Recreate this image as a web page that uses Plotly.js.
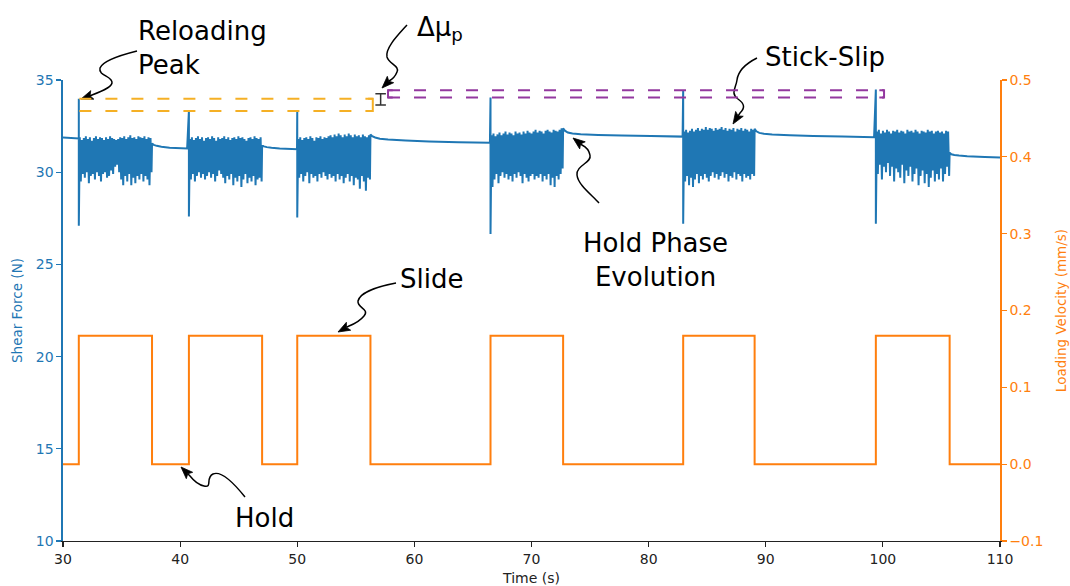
<!DOCTYPE html>
<html>
<head>
<meta charset="utf-8">
<script src="https://cdn.plot.ly/plotly-3.0.1.min.js"></script>
<style>html,body{margin:0;padding:0;background:#fff;}#chart{width:1070px;height:586px;}</style>
</head>
<body>
<div id="chart"></div>
<script>
// ---------------- data ----------------
const slideStart    = [31.35, 40.75, 50.0, 66.5, 82.95, 99.4];
const slideEnd      = [37.6, 47.0, 56.25, 72.7, 89.05, 105.7];
const slideVelocity = [0.167, 0.167, 0.167, 0.167, 0.167, 0.167];
const holdVelocity  = 0.0;

const reloadPeak = [33.98, 33.32, 33.32, 34.05, 34.45, 34.48];
const reloadDrop = [27.1, 27.6, 27.55, 26.65, 27.2, 27.2];

const preTime  = [30, 31.35];
const preForce = [31.88, 31.83];

const holdDt = [0, 0.15, 0.4, 0.8, 1.5, 3, 5, 7.5, 10.2];
const hold1 = [31.55, 31.48, 31.43, 31.38, 31.33, 31.29];
const hold2 = [31.45, 31.40, 31.36, 31.32, 31.28, 31.25];
const hold3 = [32.05, 31.95, 31.88, 31.82, 31.77, 31.72, 31.67, 31.63, 31.60];
const hold4 = [32.38, 32.25, 32.15, 32.10, 32.06, 32.02, 31.99, 31.96, 31.93];
const hold5 = [32.35, 32.22, 32.13, 32.08, 32.04, 32.00, 31.96, 31.93, 31.90];
const hold6 = [31.05, 30.97, 30.93, 30.90, 30.87, 30.83, 30.80];

const slip1Hi = [31.9,31.75,31.85,31.95,31.8,31.9,31.7,31.85,31.95,31.8,31.9,31.85,31.75,31.9,31.8,31.95,31.85,31.8,31.75,31.8,31.9,31.85,31.95,31.8,31.9,32.0,31.85,31.9,31.8,31.95,31.9,31.85,31.95,31.8,31.9,31.85];
const slip1Lo = [29.5,29.9,29.7,30.0,29.4,29.8,29.9,29.6,30.0,29.8,29.5,29.9,30.0,29.7,29.8,30.1,29.9,30.3,30.4,30.0,29.6,29.3,29.8,29.5,29.9,29.3,29.7,29.4,29.8,29.6,29.9,29.5,29.8,29.6,29.3,30.0];
const slip2Hi = [31.8,31.9,31.75,31.85,31.95,31.8,31.9,31.7,31.85,31.9,31.8,31.95,31.85,31.7,31.9,31.8,31.85,31.95,31.8,31.9,31.75,31.85,31.9,31.8,31.95,31.85,31.9,31.8,31.7,31.85,31.9,31.8,31.95,31.85,31.8,31.9];
const slip2Lo = [29.6,29.9,29.5,29.8,30.0,29.7,29.9,29.6,29.8,30.0,29.7,29.9,29.5,29.8,30.1,29.9,29.7,29.4,29.8,29.6,29.9,29.3,29.7,29.5,29.8,29.2,29.6,29.9,29.4,29.7,29.5,29.8,29.3,29.6,29.7,29.5];
const slip3Hi = [31.8,31.9,31.75,31.85,31.9,31.8,31.95,31.85,31.7,31.9,31.85,31.95,31.8,31.9,31.85,31.95,32.0,31.9,32.05,31.95,32.1,32.0,31.9,32.05,31.95,32.1,32.0,31.9,32.05,31.95,32.0,31.9,32.05,31.95,31.9,32.0];
const slip3Lo = [29.7,29.9,29.5,29.8,30.0,29.4,29.9,29.7,29.8,29.5,29.9,29.7,30.0,29.8,29.6,29.9,29.7,29.8,29.5,29.9,29.6,29.8,29.4,29.7,29.9,29.5,29.8,29.3,29.7,29.6,29.1,29.8,29.5,29.0,29.7,29.6];
const slip4Hi = [32.0,32.1,31.95,32.05,32.15,32.0,32.1,32.2,32.05,32.15,32.1,32.0,32.2,32.1,32.15,32.05,32.2,32.1,32.25,32.15,32.1,32.2,32.3,32.15,32.25,32.2,32.1,32.25,32.3,32.2,32.15,32.3,32.25,32.2,32.3,32.38];
const slip4Lo = [29.2,29.6,29.9,29.4,29.8,30.0,29.7,29.9,29.6,29.8,29.5,29.9,29.7,30.0,29.8,29.4,29.9,29.7,29.5,29.8,29.9,29.6,29.8,29.7,29.9,29.5,29.8,29.6,29.9,29.3,29.7,29.2,29.8,29.6,29.9,30.2];
const slip5Hi = [32.2,32.3,32.15,32.25,32.35,32.2,32.3,32.4,32.25,32.35,32.3,32.45,32.3,32.4,32.35,32.25,32.4,32.3,32.35,32.45,32.3,32.4,32.25,32.35,32.3,32.4,32.2,32.35,32.3,32.4,32.25,32.35,32.3,32.2,32.35,32.3];
const slip5Lo = [29.5,29.8,29.3,29.7,29.2,29.6,29.9,29.4,29.8,29.6,29.9,29.7,29.5,29.8,30.0,29.7,29.9,29.6,29.8,30.0,29.7,29.9,29.5,29.8,29.7,30.0,29.6,29.9,29.8,29.5,29.9,29.7,29.8,29.6,29.9,29.8];
const slip6Hi = [32.2,32.3,32.1,32.25,32.15,32.3,32.2,32.1,32.25,32.2,32.3,32.15,32.25,32.2,32.1,32.3,32.2,32.25,32.15,32.3,32.2,32.1,32.25,32.2,32.15,32.3,32.2,32.25,32.1,32.2,32.25,32.15,32.2,32.1,32.25,32.2];
const slip6Lo = [29.9,30.4,29.6,30.3,30.0,30.5,29.8,30.3,29.5,30.2,30.0,29.7,30.4,29.4,30.1,29.8,30.3,29.5,29.9,30.2,29.3,29.8,30.1,29.4,29.9,29.2,29.7,30.1,29.5,29.9,29.6,30.2,29.5,29.9,30.3,29.8];

const xTicks = [30, 40, 50, 60, 70, 80, 90, 100, 110];
const yTicks = [10, 15, 20, 25, 30, 35];
const y2Ticks = [-0.1, 0.0, 0.1, 0.2, 0.3, 0.4, 0.5];

// ---------------- build traces ----------------
const slipHi = [slip1Hi, slip2Hi, slip3Hi, slip4Hi, slip5Hi, slip6Hi];
const slipLo = [slip1Lo, slip2Lo, slip3Lo, slip4Lo, slip5Lo, slip6Lo];
const holds = [hold1, hold2, hold3, hold4, hold5, hold6];
const X_END = 110;

const fx = [], fy = [];
preTime.forEach((t, i) => { fx.push(t); fy.push(preForce[i]); });
for (let i = 0; i < slideStart.length; i++) {
  const t0 = slideStart[i];
  fx.push(t0); fy.push(reloadPeak[i]);
  fx.push(t0); fy.push(reloadDrop[i]);
  const hi = slipHi[i], lo = slipLo[i];
  const a = t0 + 0.04, b = slideEnd[i];
  const n = hi.length;
  const step = (b - a) / n;
  for (let k = 0; k < n; k++) {
    fx.push(a + k * step + step * 0.25); fy.push(hi[k]);
    fx.push(a + k * step + step * 0.75); fy.push(lo[k]);
  }
  const next = (i + 1 < slideStart.length) ? slideStart[i + 1] - 0.02 : X_END;
  const h = holds[i];
  for (let k = 0; k < h.length; k++) {
    fx.push(Math.min(b + holdDt[k], next)); fy.push(h[k]);
  }
}

const vx = [30], vy = [holdVelocity];
for (let i = 0; i < slideStart.length; i++) {
  vx.push(slideStart[i], slideStart[i], slideEnd[i], slideEnd[i]);
  vy.push(holdVelocity, slideVelocity[i], slideVelocity[i], holdVelocity);
}
vx.push(X_END); vy.push(holdVelocity);

const BLUE = '#1f77b4', ORANGE = '#ff7f0e', GOLD = '#f5b025', PURPLE = '#93389f';

const traces = [
  {x: fx, y: fy, type: 'scatter', mode: 'lines', line: {color: BLUE, width: 2, simplify: false}, hoverinfo: 'skip'},
  {x: vx, y: vy, type: 'scatter', mode: 'lines', yaxis: 'y2', line: {color: ORANGE, width: 2}, hoverinfo: 'skip'}
];

// ---------------- annotation helpers ----------------
const L = 63, T = 80, W = 937, H = 461;
function P(px, py) { return [(px - L) / W, (T + H - py) / H]; }
function curve(pts, endPt) {
  let s = '';
  pts.forEach((p, i) => {
    const q = P(p[0], p[1]);
    if (i === 0) s += 'M ' + q[0] + ' ' + q[1];
    else if ((i - 1) % 3 === 0) s += ' C ' + q[0] + ' ' + q[1];
    else s += ', ' + q[0] + ' ' + q[1];
  });
  if (endPt) { const q = P(endPt[0], endPt[1]); s += ' L ' + q[0] + ' ' + q[1]; }
  return s;
}
function head(tail, tip) {
  const dx = tip[0] - tail[0], dy = tip[1] - tail[1];
  const d = Math.hypot(dx, dy), ux = dx / d, uy = dy / d;
  const nx = -uy, ny = ux, len = 12, w = 4.5;
  const bx = tip[0] - ux * len, by = tip[1] - uy * len;
  const left = [bx + nx * w, by + ny * w], right = [bx - nx * w, by - ny * w];
  const inset = [tip[0] - ux * len * 0.8, tip[1] - uy * len * 0.8];
  const pts = [tip, left, inset, right].map(p => P(p[0], p[1]));
  return {path: 'M ' + pts.map(q => q[0] + ' ' + q[1]).join(' L ') + ' Z', inset: inset};
}

const squiggles = [
  {pts: [[137,51],[125,54],[103,60],[100,68],[98,76],[113,76],[112,83],[111,88],[100,92],[92,95]], tip: [81,99]},
  {pts: [[407,25],[398,35],[385,48],[387,57],[389,64],[400,66],[397,72],[395,77],[391,80],[389,81]], tip: [382,88]},
  {pts: [[757,58],[745,64],[738,72],[737,80],[736,88],[730,93],[738,99],[745,104],[745,108],[740,113]], tip: [733,124]},
  {pts: [[599,203],[592,195],[578,185],[577,175],[576,165],[592,163],[590,155],[589,150],[586,147],[582,145]], tip: [573,138]},
  {pts: [[396,283],[380,286],[360,292],[358,301],[357,308],[370,309],[364,316],[360,321],[354,324],[349,326]], tip: [338,332]},
  {pts: [[245,497],[237,487],[222,470],[213,474],[205,478],[213,488],[204,486],[199,485],[194,481],[190,476]], tip: [181,467]}
];

const shapes = [];
const annotations = [];
squiggles.forEach(s => {
  const tail = s.pts[s.pts.length - 1];
  const h = head(tail, s.tip);
  shapes.push({type: 'path', xref: 'paper', yref: 'paper', path: curve(s.pts, h.inset), line: {color: '#000', width: 1.5}});
  shapes.push({type: 'path', xref: 'paper', yref: 'paper', path: h.path, fillcolor: '#000', line: {color: '#000', width: 0.8}});
});

function label(px, py, text, xanchor, align) {
  const q = P(px, py);
  annotations.push({xref: 'paper', yref: 'paper', x: q[0], y: q[1], text: text, showarrow: false,
    xanchor: xanchor || 'center', yanchor: 'middle', align: align || 'center',
    font: {family: 'DejaVu Sans', size: 26, color: '#000'}});
}
label(136, 48, 'Reloading<br>Peak', 'left', 'left');
label(415, 28, 'Δμ<sub>p</sub>', 'left', 'left');
label(825, 57, 'Stick-Slip');
label(655, 260, 'Hold Phase<br>Evolution');
label(431, 279, 'Slide');
label(264, 518, 'Hold');

// reference lines for reload peaks (Δμp)
const oStart = slideStart[0] + 0.05, oEnd = 56.45;
const pStart = 57.75, pEnd = 100.1;
const dash = '12px,14px';
[reloadPeak[0], reloadPeak[1]].forEach(v => shapes.push({type: 'line', xref: 'x', yref: 'y', x0: oStart, x1: oEnd, y0: v, y1: v, line: {color: GOLD, width: 2, dash: dash}}));
[reloadPeak[4], reloadPeak[3]].forEach(v => shapes.push({type: 'line', xref: 'x', yref: 'y', x0: pStart, x1: pEnd, y0: v, y1: v, line: {color: PURPLE, width: 2, dash: dash}}));
shapes.push({type: 'path', xref: 'x', yref: 'y', path: `M ${oEnd-0.4} ${reloadPeak[0]} L ${oEnd} ${reloadPeak[0]} L ${oEnd} ${reloadPeak[1]} L ${oEnd-0.4} ${reloadPeak[1]}`, line: {color: GOLD, width: 2}});
shapes.push({type: 'path', xref: 'x', yref: 'y', path: `M ${pStart+0.4} ${reloadPeak[4]} L ${pStart} ${reloadPeak[4]} L ${pStart} ${reloadPeak[3]} L ${pStart+0.4} ${reloadPeak[3]}`, line: {color: PURPLE, width: 2}});
shapes.push({type: 'path', xref: 'x', yref: 'y', path: `M ${pEnd-0.4} ${reloadPeak[4]} L ${pEnd} ${reloadPeak[4]} L ${pEnd} ${reloadPeak[3]} L ${pEnd-0.4} ${reloadPeak[3]}`, line: {color: PURPLE, width: 2}});
const ibX = 57.12;
const ibTop = (reloadPeak[4] + reloadPeak[3]) / 2, ibBot = (reloadPeak[0] + reloadPeak[1]) / 2;
shapes.push({type: 'path', xref: 'x', yref: 'y', path: `M ${ibX-0.45} ${ibTop} L ${ibX+0.45} ${ibTop} M ${ibX} ${ibTop} L ${ibX} ${ibBot} M ${ibX-0.45} ${ibBot} L ${ibX+0.45} ${ibBot}`, line: {color: '#333', width: 1.5}});

const layout = {
  width: 1070, height: 586,
  margin: {l: L, r: 1070 - L - W, t: T, b: 586 - T - H},
  paper_bgcolor: '#fff', plot_bgcolor: '#fff',
  font: {family: 'DejaVu Sans', size: 14, color: '#222'},
  showlegend: false,
  xaxis: {range: [30, 110], tickvals: xTicks, ticks: 'outside', ticklen: 5, tickwidth: 1.2, tickcolor: '#222',
    showline: true, linecolor: '#222', linewidth: 1.3, showgrid: false, zeroline: false, automargin: false,
    tickfont: {size: 14, color: '#222'}, title: {text: 'Time (s)', font: {size: 14, color: '#222'}, standoff: 7}},
  yaxis: {range: [10, 35], tickvals: yTicks, ticks: 'outside', ticklen: 5, tickwidth: 1.2, tickcolor: BLUE,
    showline: true, linecolor: BLUE, linewidth: 1.6, showgrid: false, zeroline: false, automargin: false,
    tickfont: {size: 14, color: BLUE}, title: {text: 'Shear Force (N)', font: {size: 13.5, color: BLUE}, standoff: 10}},
  yaxis2: {range: [-0.1, 0.5], tickvals: y2Ticks, tickformat: '.1f', overlaying: 'y', side: 'right', anchor: 'x',
    ticks: 'outside', ticklen: 5, tickwidth: 1.2, tickcolor: ORANGE,
    showline: true, linecolor: ORANGE, linewidth: 1.6, showgrid: false, zeroline: false, automargin: false,
    tickfont: {size: 14, color: ORANGE}, title: {text: 'Loading Velocity (mm/s)', font: {size: 13.5, color: ORANGE}, standoff: 14}},
  shapes: shapes,
  annotations: annotations
};

Plotly.newPlot('chart', traces, layout, {displayModeBar: false, staticPlot: true});
</script>
</body>
</html>
